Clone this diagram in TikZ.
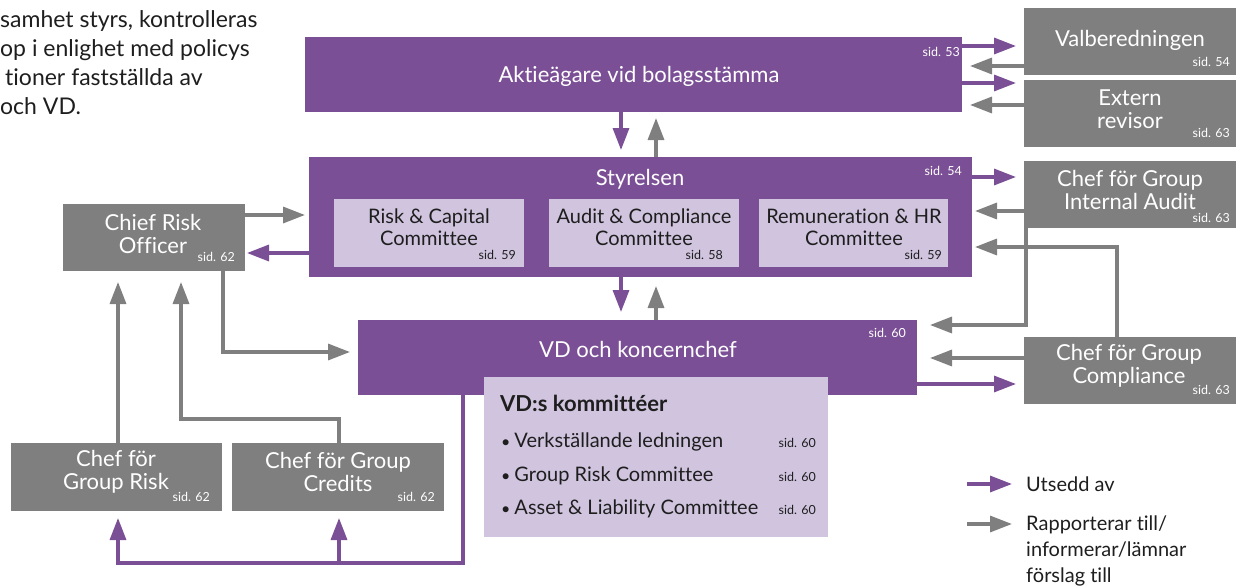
\documentclass[tikz,border=0pt]{standalone}
\usepackage{fontspec}
\setmainfont{Lato}[Ligatures=CommonOff]
\usetikzlibrary{arrows.meta}
\definecolor{govpurple}{RGB}{123,79,150}
\definecolor{govlilac}{RGB}{208,196,223}
\definecolor{govgray}{RGB}{127,127,127}
\definecolor{govtext}{RGB}{30,30,30}
\newcommand{\govbullet}{{\fontsize{16}{16}\selectfont\textbullet}\hspace{4pt}}
\begin{document}
\begin{tikzpicture}[x=1pt,y=-1pt,
    box/.style={inner sep=0pt,outer sep=0pt,anchor=north west},
    pbox/.style={box,fill=govpurple},
    gbox/.style={box,fill=govgray},
    lbox/.style={box,fill=govlilac},
    wtext/.style={text=white,align=center,inner sep=0pt,font=\fontsize{22}{23}\selectfont},
    dtext/.style={text=govtext,align=center,inner sep=0pt,font=\fontsize{20}{22}\selectfont},
    sidw/.style={text=white,inner sep=0pt,anchor=east,font=\fontsize{12.5}{14}\selectfont},
    sidd/.style={sidw,text=govtext},
    item/.style={text=govtext,inner sep=0pt,anchor=base west,font=\fontsize{20}{23}\selectfont},
    parrow/.style={draw=govpurple,line width=3.3pt,-{Triangle[length=22pt,width=16pt]},shorten >=8pt},
    garrow/.style={parrow,draw=govgray},
  ]
  \useasboundingbox (0,0) rectangle (1245,586);

  % text cut off at the left edge
  \node (intro) [anchor=north west,inner sep=0pt,align=left,text=govtext,
    font=\fontsize{23}{29}\selectfont] at (0,10)
    {samhet styrs, kontrolleras\\op i enlighet med policys\\\hspace*{5pt}tioner fastställda av\\och VD.};

  % owners and the board
  \node (agm) [pbox,minimum width=657pt,minimum height=75pt] at (305,37) {};
  \node (agmtxt) [wtext] at (639,76) {Aktieägare vid bolagsstämma};
  \node (agmsid) [sidw] at (960,52) {sid. 53};

  \node (valb) [gbox,minimum width=212pt,minimum height=67pt] at (1024,8) {};
  \node (valbtxt) [wtext] at (1130,40) {Valberedningen};
  \node (valbsid) [sidw] at (1230,62) {sid. 54};

  \node (ext) [gbox,minimum width=212pt,minimum height=67pt] at (1024,80) {};
  \node (exttxt) [wtext] at (1130,109) {Extern\\revisor};
  \node (extsid) [sidw] at (1230,133) {sid. 63};

  \node (board) [pbox,minimum width=663pt,minimum height=120pt] at (309,157) {};
  \node (boardtxt) [wtext] at (640,179) {Styrelsen};
  \node (boardsid) [sidw] at (962,171) {sid. 54};

  \node (rcc) [lbox,minimum width=190pt,minimum height=68pt] at (334,199) {};
  \node (rcctxt) [dtext] at (429,227) {Risk \& Capital\\Committee};
  \node (rccsid) [sidd] at (516,255) {sid. 59};
  \node (acc) [lbox,minimum width=190pt,minimum height=68pt] at (549,199) {};
  \node (acctxt) [dtext] at (644,227) {Audit \& Compliance\\Committee};
  \node (accsid) [sidd] at (723,255) {sid. 58};
  \node (rhr) [lbox,minimum width=189pt,minimum height=68pt] at (759,199) {};
  \node (rhrtxt) [dtext] at (854,227) {Remuneration \& HR\\Committee};
  \node (rhrsid) [sidd] at (942,255) {sid. 59};

  % control functions
  \node (cro) [gbox,minimum width=182pt,minimum height=67pt] at (63,204) {};
  \node (crotxt) [wtext] at (153,234) {Chief Risk\\Officer};
  \node (crosid) [sidw] at (235,257) {sid. 62};

  \node (audit) [gbox,minimum width=212pt,minimum height=67pt] at (1024,161) {};
  \node (audittxt) [wtext] at (1130,190) {Chef för Group\\Internal Audit};
  \node (auditsid) [sidw] at (1230,218) {sid. 63};

  \node (comp) [gbox,minimum width=212pt,minimum height=67pt] at (1024,337) {};
  \node (comptxt) [wtext] at (1129,366) {Chef för Group\\Compliance};
  \node (compsid) [sidw] at (1230,390) {sid. 63};

  % management
  \node (vd) [pbox,minimum width=559pt,minimum height=75pt] at (358,320) {};
  \node (vdtxt) [wtext] at (638,349) {VD och koncernchef};
  \node (vdsid) [sidw] at (906,333) {sid. 60};

  \node (vdcom) [lbox,minimum width=344pt,minimum height=160pt] at (484,377) {};
  \node (vdcomtitle) [text=govtext,inner sep=0pt,anchor=west,
    font=\bfseries\fontsize{22}{24}\selectfont] at (500,403) {VD:s kommittéer};
  \node (vdcom1) [item] at (501,447) {\govbullet Verkställande ledningen};
  \node (vdcom2) [item] at (501,481.5) {\govbullet Group Risk Committee};
  \node (vdcom3) [item] at (501,514) {\govbullet Asset \& Liability Committee};
  \node (vdcom1sid) [sidd,anchor=base east] at (816,447) {sid. 60};
  \node (vdcom2sid) [sidd,anchor=base east] at (816,481.5) {sid. 60};
  \node (vdcom3sid) [sidd,anchor=base east] at (816,514) {sid. 60};

  \node (grisk) [gbox,minimum width=211pt,minimum height=68pt] at (11,443) {};
  \node (grisktxt) [wtext] at (116,472) {Chef för\\Group Risk};
  \node (grisksid) [sidw] at (210,497) {sid. 62};

  \node (credits) [gbox,minimum width=212pt,minimum height=68pt] at (232,443) {};
  \node (creditstxt) [wtext] at (338,472) {Chef för Group\\Credits};
  \node (creditssid) [sidw] at (435,497) {sid. 62};

  % connectors
  \draw[parrow] (agm.east |- 0,46) -- (valb.west |- 0,46);
  \draw[garrow] (valb.west |- 0,66) -- (agm.east |- 0,66);
  \draw[parrow] (agm.east |- 0,83) -- (ext.west |- 0,83);
  \draw[garrow] (ext.west |- 0,105) -- (agm.east |- 0,105);
  \draw[parrow,shorten >=7pt] (agm.south -| 621,0) -- (board.north -| 621,0);
  \draw[garrow,shorten >=6pt] (board.north -| 656,0) -- (agm.south -| 656,0);

  \draw[parrow] (board.east |- 0,177) -- (audit.west |- 0,177);
  \draw[garrow,shorten >=3pt] (audit.west |- 0,211) -- (board.east |- 0,211);
  \draw[garrow,shorten >=3pt] (comp.north -| 1117,0) |- (board.east |- 0,247);
  \draw[garrow,shorten >=4pt] (cro.east |- 0,215) -- (board.west |- 0,215);
  \draw[parrow,shorten >=2pt] (board.west |- 0,253) -- (cro.east |- 0,253);
  \draw[parrow] (board.south -| 621,0) -- (vd.north -| 621,0);
  \draw[garrow,shorten >=9pt] (vd.north -| 656,0) -- (board.south -| 656,0);

  \draw[garrow,shorten >=13pt] (audit.south -| 1026,0) |- (vd.east |- 0,325);
  \draw[garrow,shorten >=13pt] (comp.west |- 0,358) -- (vd.east |- 0,358);
  \draw[parrow] (vd.east |- 0,384) -- (comp.west |- 0,384);
  \draw[garrow] (cro.south -| 223,0) |- (vd.west |- 0,352);

  \draw[garrow,shorten >=11pt] (grisk.north -| 118,0) -- (cro.south -| 118,0);
  \coordinate (creditsbend) at (339,419);
  \draw[garrow,shorten >=11pt] (credits.north -| 339,0) -- (creditsbend) -| (cro.south -| 181,0);

  \coordinate (vdcorner) at (463,563);
  \draw[parrow,shorten >=7pt] (vd.south -| 463,0) -- (vdcorner) -| (grisk.south -| 118,0);
  \draw[parrow,shorten >=7pt] (vdcorner -| 339,0) -- (credits.south -| 339,0);

  % legend
  \coordinate (legpa) at (967,484);
  \coordinate (legpb) at (1012,484);
  \coordinate (legga) at (967,524);
  \coordinate (leggb) at (1012,524);
  \draw[parrow,shorten >=0pt] (legpa) -- (legpb);
  \draw[garrow,shorten >=0pt] (legga) -- (leggb);
  \node (legptxt) [text=govtext,inner sep=0pt,anchor=west,font=\fontsize{20}{23}\selectfont]
    at (1026,484) {Utsedd av};
  \node (leggtxt) [text=govtext,inner sep=0pt,anchor=north west,align=left,
    font=\fontsize{20}{26}\selectfont] at (1026,516)
    {Rapporterar till/\\informerar/lämnar\\förslag till};
\end{tikzpicture}
\end{document}
